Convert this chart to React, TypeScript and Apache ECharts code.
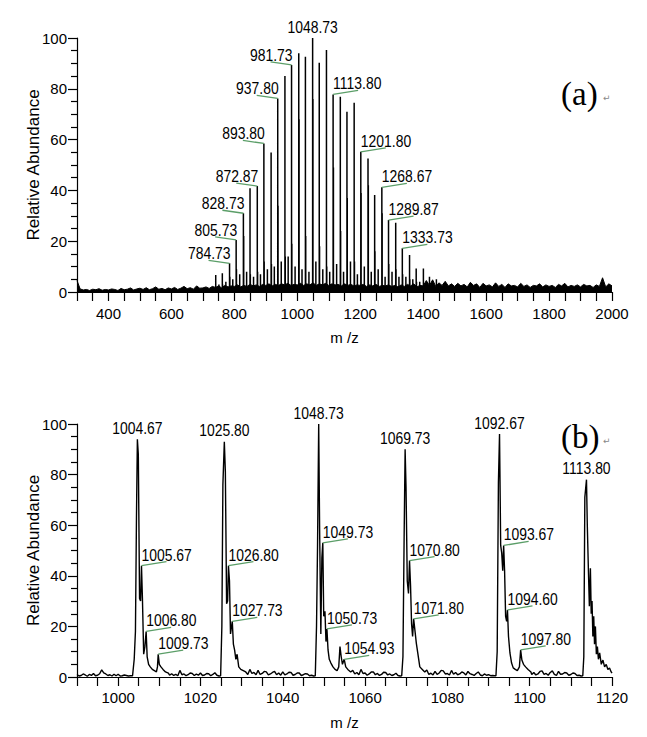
import React, { useEffect, useRef } from "react";
import * as echarts from "echarts";

// ---------- Panel (a): full spectrum ----------
const aMainMz = [740.8, 761.8, 784.73, 805.73, 828.73, 849.8, 872.87, 893.8, 916.8, 937.8, 960.7, 981.73, 1004.67, 1025.8, 1048.73, 1069.73, 1092.67, 1113.8, 1136.7, 1157.8, 1180.7, 1201.8, 1224.7, 1245.8, 1268.67, 1289.87, 1312.7, 1333.73, 1356.7, 1377.8, 1400.7];
const aMainH = [6.7, 7.4, 11.3, 20.5, 31, 40.8, 41.7, 58.5, 54.9, 76.2, 85, 89.4, 94, 92.6, 100, 90.3, 95.3, 77.8, 76.9, 71, 74.5, 55.2, 52.6, 38.2, 41.2, 28.3, 27.3, 17.2, 14.6, 9.3, 9.3];
// second (isotope) line of each cluster, drawn 1 unit to the right
const aIsoH = [2, 3, 6, 9, 22, 7, 8, 12, 11, 34, 14, 19, 68, 22, 76, 18, 10, 49, 24, 37, 12, 39, 42, 16, 31, 11, 9, 7, 5, 4, 3];
// small peaks between the main ones
const aMidMz = [751, 773, 795, 817, 839, 861, 883, 905, 927, 949, 971, 993, 1015, 1037, 1059, 1081, 1103, 1125, 1147, 1169, 1191, 1213, 1235, 1257, 1279, 1301, 1323, 1345, 1367, 1389, 1420, 1442];
const aMidH = [3, 4, 5, 7, 8, 6, 7, 9, 10, 12, 14, 10, 9, 8, 12, 9, 8, 11, 8, 12, 7, 10, 8, 9, 6, 8, 6, 6, 5, 4, 6, 5];
// baseline noise, one value every 10 m/z from 300 to 2000
const aNoiseStart = 300;
const aNoiseStep = 10;
const aNoise = [
  4.5, 1.2, 0.8, 1.0, 0.6, 1.1, 0.9, 1.3, 0.7, 1.0,
  0.8, 1.2, 1.0, 0.6, 1.4, 0.9, 1.1, 1.6, 0.8, 1.2,
  1.5, 1.0, 1.7, 0.9, 1.3, 2.0, 1.1, 1.4, 0.9, 1.6,
  1.2, 1.8, 1.0, 1.5, 2.2, 1.3, 1.7, 1.1, 2.4, 1.5,
  1.6, 2.0, 1.4, 2.2, 1.8, 2.4, 1.6, 2.6, 2.0, 2.4,
  2.2, 2.8, 2.0, 2.6, 2.2, 3.0, 2.4, 2.8, 2.2, 3.0,
  2.6, 3.2, 2.4, 3.0, 2.6, 3.2, 2.8, 3.4, 2.6, 3.0,
  2.8, 3.4, 2.6, 3.2, 2.8, 3.6, 2.6, 3.2, 2.8, 3.4,
  2.6, 3.2, 2.8, 3.0, 2.4, 3.2, 2.6, 3.0, 2.4, 2.8,
  2.6, 3.0, 2.2, 2.8, 2.4, 3.0, 2.2, 2.6, 2.4, 2.8,
  2.2, 2.6, 2.0, 2.8, 2.2, 3.0, 2.4, 3.2, 2.0, 2.6,
  2.4, 4.5, 2.6, 4.8, 2.2, 3.6, 2.6, 4.2, 2.4, 3.2,
  2.2, 3.4, 2.4, 3.0, 2.0, 3.8, 2.6, 3.2, 1.8, 3.4,
  2.4, 2.8, 2.0, 3.6, 2.2, 3.0, 1.8, 3.2, 2.4, 2.6,
  2.0, 3.4, 2.2, 2.8, 1.8, 2.6, 2.4, 3.2, 2.0, 2.8,
  2.2, 2.6, 1.8, 3.0, 2.4, 3.4, 2.0, 2.6, 2.2, 2.8,
  2.0, 3.0, 2.4, 2.6, 1.8, 2.8, 2.2, 5.6, 2.0, 3.2,
  2.4,
];
const aTopLabels = [1048.73];
const aLeftLabels = [981.73, 937.8, 893.8, 872.87, 828.73, 805.73, 784.73];
const aRightLabels = [1113.8, 1201.8, 1268.67, 1289.87, 1333.73];

// ---------- Panel (b): zoomed spectrum ----------
const bC1Mz = [1003.6, 1003.9, 1004.2, 1004.45, 1004.67, 1004.9, 1005.2, 1005.45, 1005.67, 1005.9, 1006.2, 1006.5, 1006.8, 1007.05, 1007.4, 1007.8, 1008.3, 1008.8, 1009.3, 1009.55, 1009.73, 1010.0, 1010.4, 1010.9, 1011.5, 1012.2];
const bC1V = [0.5, 7, 18, 63, 94, 88, 31, 30, 44, 31, 9, 12, 18, 8, 5, 4, 3, 2.5, 2, 4, 9, 5, 4, 3, 2, 1.5];
const bC2Mz = [1024.9, 1025.2, 1025.45, 1025.8, 1026.05, 1026.35, 1026.6, 1026.8, 1027.05, 1027.3, 1027.55, 1027.73, 1028.0, 1028.3, 1028.6, 1028.9, 1029.3, 1029.8, 1030.4, 1031.0];
const bC2V = [0.5, 20, 76, 93, 81, 29, 30, 44, 38, 17, 20, 22, 13, 10.6, 7, 9, 4, 3, 2.5, 2];
const bC3Mz = [1047.9, 1048.2, 1048.45, 1048.73, 1048.95, 1049.25, 1049.5, 1049.73, 1049.95, 1050.25, 1050.5, 1050.73, 1051.0, 1051.3, 1051.7, 1052.2, 1052.7, 1053.2, 1053.6, 1053.9, 1054.2, 1054.5, 1054.93, 1055.3, 1055.8, 1056.5];
const bC3V = [0.5, 20, 52, 100, 59, 17, 47, 53, 24, 26, 14, 19, 10.7, 7, 5.5, 4, 3, 2.5, 4, 12, 8, 5, 7, 4, 3, 2];
const bC4Mz = [1068.9, 1069.2, 1069.5, 1069.73, 1069.95, 1070.25, 1070.55, 1070.8, 1071.05, 1071.3, 1071.55, 1071.8, 1072.1, 1072.45, 1072.8, 1073.3, 1073.9, 1074.5];
const bC4V = [0.5, 8, 57, 90, 75, 38, 33, 46, 36, 21, 16, 23, 18.6, 13.4, 9.5, 4, 3, 2];
const bC5Mz = [1091.8, 1092.1, 1092.4, 1092.67, 1092.95, 1093.2, 1093.45, 1093.67, 1093.9, 1094.15, 1094.4, 1094.6, 1094.85, 1095.2, 1095.6, 1096.0, 1096.5, 1097.0, 1097.5, 1097.8, 1098.1, 1098.5, 1099.0, 1099.6, 1100.3];
const bC5V = [0.5, 10, 77, 96, 52, 49, 42, 52, 42, 24, 22, 26.5, 16, 9.5, 5.5, 3.6, 3, 2.5, 4, 10.7, 6.7, 5, 4, 3, 2];
const bC6Mz = [1112.9, 1113.15, 1113.4, 1113.8, 1114.0, 1114.27, 1114.5, 1114.75, 1114.95, 1115.15, 1115.35, 1115.56, 1115.75, 1115.97, 1116.2, 1116.45, 1116.7, 1117.0, 1117.4, 1117.8, 1118.2, 1118.6, 1119.0, 1119.4, 1119.8, 1120];
const bC6V = [0.5, 8, 71, 78, 60, 42, 28, 43, 25, 30, 16, 24, 13, 20, 9, 12, 7, 9.5, 5, 6.7, 4, 5, 3, 3.6, 2, 1.5];
// baseline noise, one value every half m/z unit from 990 to 1120
const bNoiseStart = 990;
const bNoiseStep = 0.5;
const bNoise = [
  1.0, 0.4, 0.6, 1.2, 0.8, 0.3, 1.0, 0.6, 1.4, 0.5, 0.7, 1.3, 2.8, 1.6, 1.2, 0.6, 0.9, 0.4, 1.1, 0.5,
  1.1, 0.4, 0.5, 0.8, 0.6, 0.4, 0.5, 0.5, 0.5, 0.5, 0.5, 0.5, 0.5, 0.5, 0.5, 0.5, 0.5, 0.5, 0.5, 0.5,
  1.5, 0.8, 1.8, 1.0, 1.6, 0.7, 1.3, 0.6, 1.0, 0.5, 2.6, 0.9, 1.2, 0.5, 0.9, 1.6, 1.4, 0.6, 1.1, 0.7,
  1.6, 0.6, 0.8, 1.4, 1.3, 0.5, 1.0, 1.7, 0.7, 0.4, 0.5, 0.5, 0.5, 0.5, 0.5, 0.5, 0.5, 0.5, 0.5, 0.5,
  0.5, 1.4, 2.4, 1.0, 3.0, 1.4, 1.8, 0.9, 2.6, 1.0, 1.4, 2.2, 2.0, 0.8, 1.2, 1.8, 2.2, 0.9, 1.6, 0.7,
  2.0, 0.8, 1.2, 1.9, 1.8, 0.7, 1.0, 1.6, 1.6, 0.6, 0.9, 1.3, 1.2, 0.5, 0.7, 0.4, 0.5, 0.5, 0.5, 0.5,
  0.5, 0.5, 0.5, 0.5, 0.5, 0.5, 0.5, 0.5, 0.5, 0.5, 0.5, 0.5, 0.5, 0.5, 2.6, 1.2, 1.8, 0.9, 3.0, 1.4,
  1.6, 0.7, 1.2, 2.0, 2.0, 0.9, 1.4, 0.6, 1.0, 1.9, 1.8, 0.8, 1.2, 0.6, 0.9, 1.5, 0.6, 0.4, 0.5, 0.5,
  0.5, 0.5, 0.5, 0.5, 0.5, 0.5, 0.5, 0.5, 0.5, 0.5, 2.8, 1.0, 1.5, 0.8, 2.2, 1.0, 1.6, 2.6, 2.4, 1.2,
  1.4, 0.8, 2.6, 1.1, 1.8, 0.9, 1.2, 2.0, 1.6, 0.8, 2.2, 1.3, 1.0, 0.6, 1.4, 2.0, 0.8, 0.5, 1.2, 0.7,
  0.9, 0.5, 0.6, 0.5, 0.5, 0.5, 0.5, 0.5, 0.5, 0.5, 0.5, 0.5, 0.5, 0.5, 0.5, 0.5, 0.5, 0.5, 0.5, 0.5,
  2.6, 1.0, 1.8, 0.8, 1.2, 2.2, 2.4, 1.0, 1.4, 0.7, 1.8, 2.4, 1.0, 0.6, 2.2, 1.1, 1.2, 1.8, 1.6, 0.7,
  1.0, 1.6, 1.4, 0.6, 0.7, 0.4, 0.5, 0.5, 0.5, 0.5, 0.5, 0.5, 0.5, 0.5, 0.5, 0.5, 0.5, 0.5, 0.5, 0.5,
  1.5,
];
const bTopLabels = [1004.67, 1025.8, 1048.73, 1069.73, 1092.67, 1113.8];
const bRightLabels = [1005.67, 1006.8, 1009.73, 1026.8, 1027.73, 1049.73, 1050.73, 1054.93, 1070.8, 1071.8, 1093.67, 1094.6, 1097.8];

const SANS = '"Liberation Sans", Arial, sans-serif';
const GREEN = "#5b9e68";

function buildA() {
  const sticks: number[][] = [];
  const peaks: number[][] = [];
  aMainMz.forEach((m, i) => {
    peaks.push([m, aMainH[i]]);
    peaks.push([m + 1, aIsoH[i]]);
  });
  aMidMz.forEach((m, i) => peaks.push([m, aMidH[i]]));
  peaks.sort((p, q) => p[0] - q[0]);
  peaks.forEach(([m, h]) => {
    sticks.push([m, 0], [m, h], [m, 0]);
  });
  const noise = aNoise.map((v, i) => [aNoiseStart + i * aNoiseStep, v]);
  const labels: number[][] = [];
  const hOf = (m: number) => aMainH[aMainMz.indexOf(m)];
  aTopLabels.forEach((m) => labels.push([m, hOf(m), 0]));
  aLeftLabels.forEach((m) => labels.push([m, hOf(m), 1]));
  aRightLabels.forEach((m) => labels.push([m, hOf(m), 2]));
  return { sticks, noise, labels };
}

function buildB() {
  const clusters = [
    [bC1Mz, bC1V], [bC2Mz, bC2V], [bC3Mz, bC3V],
    [bC4Mz, bC4V], [bC5Mz, bC5V], [bC6Mz, bC6V],
  ];
  const ranges = clusters.map(([m]) => [m[0], m[m.length - 1]]);
  const pts: number[][] = [];
  bNoise.forEach((v, i) => {
    const mz = bNoiseStart + i * bNoiseStep;
    if (!ranges.some(([a, b]) => mz >= a && mz <= b)) pts.push([mz, v]);
  });
  clusters.forEach(([m, v]) => m.forEach((x, i) => pts.push([x, v[i]])));
  pts.sort((p, q) => p[0] - q[0]);
  const hOf = (m: number) => (pts.find((p) => p[0] === m) as number[])[1];
  const labels: number[][] = [];
  bTopLabels.forEach((m) => labels.push([m, hOf(m), 0]));
  bRightLabels.forEach((m) => labels.push([m, hOf(m), 2]));
  return { pts, labels };
}

function labelRender(params: any, api: any) {
  const mz = api.value(0);
  const pt = api.coord([mz, api.value(1)]);
  const side = api.value(2);
  const text = Number(mz).toFixed(2);
  const font = { fontSize: 17, fontFamily: SANS, fill: "#000" };
  const sx = 0.82;
  if (side === 0) {
    return {
      type: "text",
      x: pt[0],
      y: pt[1] - 3,
      scaleX: sx,
      style: { text, align: "center", verticalAlign: "bottom", ...font },
    };
  }
  if (side === 1) {
    return {
      type: "group",
      children: [
        { type: "text", x: pt[0] + 1, y: pt[1] - 10, scaleX: sx, style: { text, align: "right", verticalAlign: "middle", ...font } },
        { type: "line", shape: { x1: pt[0] - 21, y1: pt[1] - 3, x2: pt[0], y2: pt[1] }, style: { stroke: GREEN, lineWidth: 1.3 } },
      ],
    };
  }
  return {
    type: "group",
    children: [
      { type: "text", x: pt[0], y: pt[1] - 11, scaleX: sx, style: { text, align: "left", verticalAlign: "middle", ...font } },
      { type: "line", shape: { x1: pt[0], y1: pt[1], x2: pt[0] + 25, y2: pt[1] - 4 }, style: { stroke: GREEN, lineWidth: 1.3 } },
    ],
  };
}

function xAxisCfg(grid: number, min: number, max: number, interval: number, labelStep: number, margin: number) {
  return {
    type: "value",
    gridIndex: grid,
    min,
    max,
    interval,
    name: "m /z",
    nameLocation: "middle",
    nameGap: 38,
    nameTextStyle: { color: "#000", fontSize: 15, fontFamily: SANS },
    axisLine: { show: true, onZero: false, lineStyle: { color: "#000", width: 1.2 } },
    axisTick: { show: true, length: 9, lineStyle: { color: "#000", width: 1.2 } },
    minorTick: { show: true, splitNumber: 2, length: 9, lineStyle: { color: "#000", width: 1.2 } },
    axisLabel: {
      interval: 0,
      margin,
      color: "#000",
      fontSize: 15,
      fontFamily: SANS,
      formatter: (v: number) => (Math.round(v) % labelStep === 0 ? String(Math.round(v)) : ""),
    },
    splitLine: { show: false },
    minorSplitLine: { show: false },
  };
}

function yAxisCfg(grid: number) {
  return {
    type: "value",
    gridIndex: grid,
    min: 0,
    max: 100,
    interval: 20,
    name: "Relative Abundance",
    nameLocation: "middle",
    nameGap: 35,
    nameMoveOverlap: false,
    nameTextStyle: { color: "#000", fontSize: 17, fontFamily: SANS },
    axisLine: { show: true, lineStyle: { color: "#000", width: 1.2 } },
    axisTick: { show: true, length: 9, lineStyle: { color: "#000", width: 1.2 } },
    minorTick: { show: true, splitNumber: 4, length: 6, lineStyle: { color: "#000", width: 1.2 } },
    axisLabel: { margin: 10, color: "#000", fontSize: 15, fontFamily: SANS },
    splitLine: { show: false },
    minorSplitLine: { show: false },
  };
}

export default function App() {
  const ref = useRef<HTMLDivElement>(null);
  useEffect(() => {
    if (!ref.current) return;
    const chart = echarts.init(ref.current, null, { renderer: "svg" });
    const A = buildA();
    const B = buildB();
    chart.setOption({
      animation: false,
      backgroundColor: "#fff",
      grid: [
        { left: 77, right: 35, top: 38, height: 254 },
        { left: 77, right: 35, top: 424, height: 253 },
      ],
      xAxis: [xAxisCfg(0, 300, 2000, 100, 200, 14), xAxisCfg(1, 990, 1120, 10, 20, 13)],
      yAxis: [yAxisCfg(0), yAxisCfg(1)],
      series: [
        {
          type: "line",
          xAxisIndex: 0,
          yAxisIndex: 0,
          data: A.noise,
          symbol: "none",
          lineStyle: { color: "#000", width: 1 },
          areaStyle: { color: "#000", opacity: 1 },
          silent: true,
        },
        {
          type: "line",
          xAxisIndex: 0,
          yAxisIndex: 0,
          data: A.sticks,
          symbol: "none",
          lineStyle: { color: "#000", width: 1.5 },
          silent: true,
        },
        {
          type: "custom",
          xAxisIndex: 0,
          yAxisIndex: 0,
          data: A.labels,
          encode: { x: 0, y: 1 },
          renderItem: labelRender,
          silent: true,
          z: 5,
        },
        {
          type: "line",
          xAxisIndex: 1,
          yAxisIndex: 1,
          data: B.pts,
          symbol: "none",
          lineStyle: { color: "#000", width: 1.4 },
          silent: true,
        },
        {
          type: "custom",
          xAxisIndex: 1,
          yAxisIndex: 1,
          data: B.labels,
          encode: { x: 0, y: 1 },
          renderItem: labelRender,
          silent: true,
          z: 5,
        },
      ],
      graphic: [
        { type: "text", left: 561, top: 77, style: { text: "(a)", fontSize: 33, fontFamily: '"Liberation Serif", "Times New Roman", serif', fill: "#000" } },
        { type: "text", left: 603, top: 93, style: { text: "↵", fontSize: 9, fontFamily: '"DejaVu Sans", sans-serif', fill: "#888" } },
        { type: "text", left: 561, top: 420, style: { text: "(b)", fontSize: 33, fontFamily: '"Liberation Serif", "Times New Roman", serif', fill: "#000" } },
        { type: "text", left: 603, top: 436, style: { text: "↵", fontSize: 9, fontFamily: '"DejaVu Sans", sans-serif', fill: "#888" } },
      ],
    });
    return () => chart.dispose();
  }, []);
  return (
    <div
      ref={ref}
      style={{ position: "fixed", left: 0, top: 0, width: 647, height: 737, background: "#fff" }}
    />
  );
}
